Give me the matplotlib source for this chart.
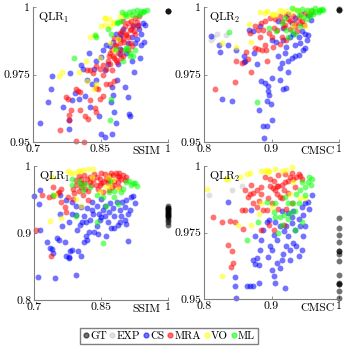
import matplotlib
matplotlib.use("Agg")
import matplotlib.pyplot as plt

plt.rcParams["font.family"] = ["cmr10", "DejaVu Serif"]
plt.rcParams["mathtext.fontset"] = "cm"
plt.rcParams["axes.formatter.use_mathtext"] = True

series = ["GT", "EXP", "CS", "MRA", "VO", "ML"]
colors = {"GT": "#000000", "EXP": "#c8c8c8", "CS": "#0000ff",
          "MRA": "#ff0000", "VO": "#ffff00", "ML": "#00ff00"}

# ---- top left: SSIM vs QLR1 ----
tl_gt = [(1.0, 0.9985), (1.0, 0.9985), (1.0, 0.9986)]
tl_exp = []
tl_cs = [(0.716, 0.957), (0.733, 0.965), (0.739, 0.9695), (0.742, 0.9745), (0.767, 0.963),
         (0.780, 0.955), (0.781, 0.958), (0.783, 0.9755), (0.787, 0.9655), (0.793, 0.968),
         (0.802, 0.966), (0.806, 0.9785), (0.811, 0.977), (0.816, 0.967), (0.820, 0.973),
         (0.824, 0.983), (0.827, 0.963), (0.830, 0.9715), (0.836, 0.977), (0.841, 0.980),
         (0.841, 0.973), (0.846, 0.9595), (0.852, 0.9815), (0.856, 0.984), (0.861, 0.9765),
         (0.863, 0.986), (0.867, 0.979), (0.874, 0.965), (0.876, 0.9705), (0.878, 0.9675),
         (0.881, 0.961), (0.884, 0.957), (0.850, 0.953), (0.861, 0.952), (0.876, 0.953),
         (0.887, 0.973), (0.889, 0.979), (0.893, 0.9845), (0.896, 0.990), (0.904, 0.9705),
         (0.907, 0.983), (0.911, 0.9665), (0.913, 0.9605), (0.916, 0.9595), (0.919, 0.980),
         (0.922, 0.993), (0.924, 0.976), (0.926, 0.9865), (0.930, 0.988), (0.936, 0.992),
         (0.937, 0.981), (0.941, 0.986), (0.944, 0.994), (0.910, 0.9865), (0.919, 0.989),
         (0.893, 0.9825), (0.878, 0.987), (0.870, 0.9855), (0.885, 0.990), (0.901, 0.992),
         (0.893, 0.9885), (0.933, 0.9934), (0.940, 0.990), (0.946, 0.987), (0.948, 0.9935)]
tl_mra = [(0.761, 0.9545), (0.779, 0.958), (0.781, 0.960), (0.785, 0.962), (0.778, 0.966),
          (0.774, 0.9668), (0.795, 0.9695), (0.800, 0.969), (0.804, 0.9685), (0.796, 0.9505),
          (0.813, 0.950), (0.815, 0.9595), (0.822, 0.9585), (0.805, 0.962), (0.837, 0.9625),
          (0.841, 0.961), (0.826, 0.9655), (0.839, 0.970), (0.844, 0.9695), (0.848, 0.966),
          (0.856, 0.967), (0.863, 0.9715), (0.870, 0.9715), (0.881, 0.9725), (0.826, 0.9765),
          (0.833, 0.9755), (0.848, 0.977), (0.841, 0.978), (0.856, 0.9785), (0.863, 0.977),
          (0.876, 0.9765), (0.885, 0.9805), (0.878, 0.982), (0.870, 0.983), (0.885, 0.9855),
          (0.893, 0.9865), (0.900, 0.988), (0.906, 0.990), (0.915, 0.9915), (0.922, 0.9935),
          (0.930, 0.9945), (0.919, 0.9855), (0.911, 0.984), (0.896, 0.984), (0.889, 0.983),
          (0.901, 0.982), (0.907, 0.9895), (0.893, 0.9905), (0.881, 0.9885), (0.915, 0.9865),
          (0.926, 0.990), (0.933, 0.993), (0.867, 0.980), (0.856, 0.975), (0.819, 0.9765),
          (0.900, 0.995), (0.905, 0.993), (0.912, 0.994), (0.918, 0.992), (0.925, 0.991),
          (0.910, 0.989), (0.898, 0.991), (0.903, 0.987), (0.890, 0.988), (0.883, 0.986),
          (0.875, 0.984), (0.868, 0.982), (0.872, 0.979), (0.880, 0.981), (0.887, 0.9795),
          (0.895, 0.981), (0.917, 0.995), (0.927, 0.996), (0.935, 0.9965)]
tl_vo = [(0.758, 0.9745), (0.764, 0.976), (0.802, 0.976), (0.817, 0.980), (0.826, 0.989),
         (0.837, 0.9895), (0.841, 0.9715), (0.835, 0.9695), (0.848, 0.981), (0.859, 0.996),
         (0.861, 0.9935), (0.870, 0.993), (0.881, 0.9945), (0.893, 0.9965), (0.901, 0.997),
         (0.915, 0.9965), (0.870, 0.9865), (0.881, 0.984), (0.889, 0.988), (0.819, 0.9725),
         (0.860, 0.996), (0.868, 0.9955), (0.877, 0.994), (0.852, 0.993)]
tl_ml = [(0.790, 0.981), (0.837, 0.9895), (0.874, 0.966), (0.870, 0.958), (0.889, 0.9945),
         (0.896, 0.995), (0.906, 0.9965), (0.919, 0.997), (0.930, 0.997), (0.937, 0.9975),
         (0.944, 0.998), (0.904, 0.984), (0.915, 0.983), (0.922, 0.982), (0.900, 0.980),
         (0.907, 0.985), (0.926, 0.984), (0.885, 0.9845), (0.897, 0.998), (0.905, 0.9975),
         (0.913, 0.998), (0.922, 0.9985), (0.930, 0.999), (0.940, 0.9985), (0.947, 0.9985),
         (0.953, 0.999), (0.886, 0.994), (0.841, 0.989), (0.866, 0.992), (0.908, 0.985),
         (0.915, 0.982), (0.873, 0.990)]

# ---- top right: CMSC vs QLR2 ----
tr_gt = [(1.0, 0.999), (1.0, 0.999), (1.0, 0.9991)]
tr_exp = [(0.810, 0.9878), (0.819, 0.990), (0.833, 0.9897), (0.814, 0.9888)]
tr_cs = [(0.810, 0.9893), (0.822, 0.986), (0.836, 0.986), (0.823, 0.9835), (0.848, 0.984),
         (0.859, 0.982), (0.861, 0.980), (0.859, 0.9795), (0.874, 0.983), (0.879, 0.979),
         (0.826, 0.9658), (0.842, 0.9653), (0.885, 0.9726), (0.882, 0.962), (0.890, 0.9717),
         (0.895, 0.9707), (0.895, 0.969), (0.896, 0.9674), (0.894, 0.9653), (0.899, 0.964),
         (0.900, 0.9583), (0.888, 0.9558), (0.893, 0.9558), (0.889, 0.9516), (0.901, 0.9736),
         (0.912, 0.973), (0.913, 0.9773), (0.915, 0.9792), (0.917, 0.9695), (0.922, 0.970),
         (0.924, 0.976), (0.920, 0.983), (0.924, 0.980), (0.930, 0.981), (0.935, 0.9818),
         (0.940, 0.9823), (0.946, 0.984), (0.950, 0.9848), (0.942, 0.9866), (0.952, 0.9878),
         (0.954, 0.9897), (0.950, 0.990), (0.940, 0.989), (0.932, 0.990), (0.927, 0.989),
         (0.917, 0.9878), (0.907, 0.987), (0.901, 0.9878), (0.910, 0.9818), (0.922, 0.9853),
         (0.935, 0.986), (0.945, 0.991), (0.959, 0.9953), (0.954, 0.9971), (0.873, 0.991),
         (0.867, 0.9916), (0.883, 0.9928), (0.917, 0.9922), (0.930, 0.994), (0.910, 0.9947),
         (0.935, 0.996), (0.943, 0.9975), (0.925, 0.9975), (0.960, 0.9985)]
tr_mra = [(0.816, 0.9695), (0.846, 0.9723), (0.847, 0.980), (0.862, 0.9835), (0.865, 0.9806),
          (0.857, 0.9794), (0.870, 0.976), (0.894, 0.980), (0.875, 0.985), (0.880, 0.9844),
          (0.886, 0.984), (0.892, 0.984), (0.891, 0.986), (0.902, 0.9853), (0.913, 0.9864),
          (0.915, 0.9888), (0.922, 0.9878), (0.900, 0.989), (0.883, 0.989), (0.875, 0.993),
          (0.884, 0.994), (0.890, 0.995), (0.898, 0.996), (0.905, 0.9955), (0.913, 0.9965),
          (0.922, 0.997), (0.932, 0.9968), (0.940, 0.996), (0.950, 0.9978), (0.957, 0.9975),
          (0.927, 0.995), (0.920, 0.9934), (0.935, 0.9928), (0.942, 0.994), (0.903, 0.9922),
          (0.868, 0.9903), (0.880, 0.9916), (0.915, 0.995), (0.925, 0.9955), (0.935, 0.994),
          (0.945, 0.995), (0.918, 0.9925), (0.928, 0.992), (0.938, 0.991), (0.948, 0.9935),
          (0.908, 0.9915), (0.896, 0.9905), (0.887, 0.9915)]
tr_vo = [(0.826, 0.9866), (0.848, 0.9853), (0.867, 0.9938), (0.870, 0.987), (0.891, 0.9978),
         (0.907, 0.9975), (0.917, 0.998), (0.927, 0.9978), (0.940, 0.9984), (0.950, 0.9928),
         (0.932, 0.9934), (0.954, 0.9984), (0.962, 0.999), (0.945, 0.9966), (0.902, 0.997),
         (0.883, 0.998), (0.893, 0.9985), (0.900, 0.9975), (0.912, 0.999), (0.922, 0.9985),
         (0.934, 0.9992)]
tr_ml = [(0.837, 0.9906), (0.879, 0.965), (0.897, 0.9922), (0.915, 0.994), (0.922, 0.9916),
         (0.930, 0.991), (0.942, 0.9928), (0.947, 0.9962), (0.957, 0.9968), (0.965, 0.998),
         (0.972, 0.9988), (0.976, 0.999), (0.970, 0.998), (0.962, 0.9974), (0.952, 0.9955),
         (0.935, 0.990), (0.924, 0.989), (0.907, 0.991), (0.930, 0.9995), (0.938, 0.999),
         (0.945, 0.9993), (0.952, 0.9988), (0.958, 0.999), (0.965, 0.9995), (0.970, 0.999),
         (0.975, 0.9993), (0.940, 0.997), (0.955, 0.9975), (0.920, 0.996)]

# ---- bottom left: SSIM vs QLR1 ----
bl_gt = [(1.0, 0.912), (1.0, 0.917), (1.0, 0.920), (1.0, 0.922), (1.0, 0.925), (1.0, 0.927),
         (1.0, 0.930), (1.0, 0.932), (1.0, 0.935), (1.0, 0.937), (1.0, 0.940), (1.0, 0.926),
         (1.0, 0.929), (1.0, 0.933), (1.0, 0.936), (1.0, 0.938)]
bl_exp = []
bl_cs = [(0.701, 0.955), (0.711, 0.944), (0.714, 0.904), (0.728, 0.887), (0.713, 0.964),
         (0.709, 0.834), (0.746, 0.8325), (0.735, 0.877), (0.740, 0.876), (0.742, 0.870),
         (0.751, 0.893), (0.757, 0.890), (0.759, 0.928), (0.763, 0.910), (0.770, 0.887),
         (0.772, 0.866), (0.778, 0.864), (0.781, 0.873), (0.784, 0.875), (0.779, 0.863),
         (0.793, 0.837), (0.796, 0.905), (0.798, 0.873), (0.806, 0.866), (0.811, 0.886),
         (0.816, 0.895), (0.818, 0.890), (0.808, 0.917), (0.817, 0.917), (0.823, 0.902),
         (0.834, 0.902), (0.843, 0.898), (0.847, 0.919), (0.851, 0.924), (0.855, 0.934),
         (0.860, 0.926), (0.866, 0.917), (0.873, 0.907), (0.880, 0.907), (0.888, 0.912),
         (0.892, 0.917), (0.903, 0.919), (0.907, 0.914), (0.910, 0.888), (0.903, 0.939),
         (0.896, 0.946), (0.907, 0.949), (0.918, 0.954), (0.922, 0.955), (0.892, 0.934),
         (0.877, 0.937), (0.869, 0.932), (0.880, 0.925), (0.851, 0.951), (0.840, 0.941),
         (0.829, 0.946), (0.818, 0.937), (0.806, 0.939), (0.795, 0.927), (0.784, 0.929),
         (0.772, 0.949), (0.759, 0.956), (0.784, 0.946), (0.885, 0.946), (0.910, 0.929),
         (0.779, 0.916), (0.832, 0.929), (0.825, 0.919), (0.803, 0.912), (0.861, 0.895),
         (0.830, 0.935), (0.845, 0.928), (0.860, 0.940), (0.870, 0.945), (0.895, 0.925),
         (0.915, 0.935), (0.925, 0.945), (0.840, 0.910), (0.795, 0.940), (0.812, 0.925)]
bl_mra = [(0.705, 0.904), (0.737, 0.866), (0.719, 0.956), (0.734, 0.954), (0.743, 0.955),
          (0.754, 0.959), (0.761, 0.966), (0.757, 0.961), (0.769, 0.939), (0.772, 0.932),
          (0.761, 0.946), (0.776, 0.954), (0.787, 0.966), (0.795, 0.971), (0.805, 0.974),
          (0.806, 0.969), (0.814, 0.966), (0.821, 0.962), (0.828, 0.971), (0.832, 0.979),
          (0.840, 0.984), (0.847, 0.981), (0.855, 0.976), (0.862, 0.981), (0.869, 0.985),
          (0.877, 0.986), (0.884, 0.989), (0.891, 0.984), (0.899, 0.986), (0.903, 0.979),
          (0.891, 0.969), (0.880, 0.971), (0.869, 0.964), (0.855, 0.961), (0.844, 0.965),
          (0.818, 0.981), (0.806, 0.981), (0.795, 0.979), (0.787, 0.951), (0.810, 0.956),
          (0.821, 0.949), (0.888, 0.976), (0.866, 0.974), (0.847, 0.971), (0.743, 0.969),
          (0.800, 0.985), (0.812, 0.987), (0.825, 0.984), (0.835, 0.988), (0.850, 0.989),
          (0.860, 0.988), (0.873, 0.990), (0.887, 0.985), (0.895, 0.980), (0.880, 0.978),
          (0.865, 0.979), (0.850, 0.975), (0.838, 0.972), (0.825, 0.976), (0.812, 0.975),
          (0.800, 0.962), (0.790, 0.960), (0.875, 0.968), (0.890, 0.990), (0.905, 0.983)]
bl_vo = [(0.740, 0.983), (0.780, 0.989), (0.789, 0.990), (0.798, 0.992), (0.810, 0.994),
         (0.821, 0.995), (0.832, 0.996), (0.735, 0.918), (0.761, 0.922), (0.805, 0.941),
         (0.847, 0.961), (0.862, 0.969), (0.877, 0.979), (0.888, 0.966), (0.795, 0.951),
         (0.746, 0.956), (0.775, 0.992), (0.803, 0.993), (0.830, 0.983), (0.870, 0.970),
         (0.865, 0.983)]
bl_ml = [(0.743, 0.957), (0.784, 0.972), (0.795, 0.925), (0.840, 0.917), (0.855, 0.885),
         (0.805, 0.971), (0.810, 0.964), (0.825, 0.969), (0.840, 0.956), (0.855, 0.954),
         (0.869, 0.961), (0.880, 0.954), (0.888, 0.944), (0.899, 0.966), (0.907, 0.976),
         (0.918, 0.971), (0.922, 0.974), (0.895, 0.961), (0.862, 0.941), (0.912, 0.977),
         (0.925, 0.975), (0.930, 0.970), (0.785, 0.981), (0.800, 0.977), (0.815, 0.973),
         (0.870, 0.977), (0.880, 0.963)]

# ---- bottom right: CMSC vs QLR2 ----
br_gt = [(1.0, 0.9803), (1.0, 0.9766), (1.0, 0.9741), (1.0, 0.9716), (1.0, 0.9679),
         (1.0, 0.9669), (1.0, 0.9641), (1.0, 0.9592), (1.0, 0.956), (1.0, 0.9555),
         (1.0, 0.953), (1.0, 0.9505), (1.0, 0.9679), (1.0, 0.9555)]
br_exp = [(0.807, 0.989), (0.841, 0.991), (0.857, 0.9924)]
br_cs = [(0.836, 0.9865), (0.846, 0.9582), (0.846, 0.9548), (0.848, 0.9505), (0.863, 0.9548),
         (0.868, 0.955), (0.873, 0.9548), (0.882, 0.956), (0.873, 0.9648), (0.878, 0.9655),
         (0.875, 0.963), (0.882, 0.9628), (0.883, 0.9685), (0.885, 0.9723), (0.888, 0.976),
         (0.893, 0.979), (0.898, 0.970), (0.900, 0.9685), (0.895, 0.9658), (0.900, 0.961),
         (0.903, 0.9585), (0.905, 0.956), (0.913, 0.9616), (0.920, 0.954), (0.915, 0.9648),
         (0.917, 0.967), (0.922, 0.970), (0.925, 0.9735), (0.927, 0.9685), (0.932, 0.971),
         (0.937, 0.970), (0.940, 0.966), (0.945, 0.9685), (0.946, 0.9735), (0.950, 0.9773),
         (0.942, 0.9773), (0.935, 0.976), (0.922, 0.9773), (0.913, 0.9773), (0.905, 0.979),
         (0.918, 0.9755), (0.930, 0.9786), (0.940, 0.980), (0.947, 0.9816), (0.945, 0.9846),
         (0.950, 0.986), (0.954, 0.9866), (0.932, 0.983), (0.925, 0.9823), (0.908, 0.9723),
         (0.903, 0.974), (0.896, 0.9796), (0.875, 0.9735), (0.870, 0.9835), (0.908, 0.9635),
         (0.927, 0.9648), (0.915, 0.983), (0.930, 0.981), (0.960, 0.989), (0.955, 0.984)]
br_mra = [(0.813, 0.981), (0.827, 0.979), (0.836, 0.9703), (0.842, 0.968), (0.840, 0.962),
          (0.843, 0.9635), (0.839, 0.9795), (0.846, 0.979), (0.858, 0.9765), (0.857, 0.9835),
          (0.861, 0.9836), (0.865, 0.9885), (0.868, 0.9895), (0.873, 0.990), (0.878, 0.991),
          (0.881, 0.987), (0.885, 0.9895), (0.888, 0.9836), (0.893, 0.9834), (0.898, 0.9924),
          (0.902, 0.9916), (0.905, 0.991), (0.910, 0.9924), (0.915, 0.993), (0.920, 0.994),
          (0.925, 0.9945), (0.927, 0.996), (0.932, 0.9953), (0.937, 0.996), (0.942, 0.9963),
          (0.908, 0.9895), (0.913, 0.9885), (0.918, 0.991), (0.903, 0.976), (0.896, 0.978),
          (0.885, 0.9758), (0.918, 0.978), (0.922, 0.984), (0.930, 0.986), (0.873, 0.986),
          (0.878, 0.9847), (0.903, 0.9945), (0.908, 0.9924), (0.890, 0.996), (0.898, 0.995),
          (0.910, 0.9965), (0.920, 0.997), (0.930, 0.9975), (0.940, 0.997), (0.945, 0.995),
          (0.935, 0.992), (0.925, 0.990), (0.915, 0.988), (0.895, 0.988), (0.885, 0.992),
          (0.870, 0.993), (0.860, 0.991), (0.900, 0.986), (0.910, 0.984)]
br_vo = [(0.805, 0.9913), (0.833, 0.995), (0.836, 0.9953), (0.853, 0.996), (0.863, 0.9969),
         (0.868, 0.9974), (0.885, 0.998), (0.890, 0.998), (0.895, 0.9978), (0.897, 0.998),
         (0.922, 0.9986), (0.827, 0.9585), (0.850, 0.978), (0.870, 0.978), (0.882, 0.982),
         (0.885, 0.986), (0.900, 0.9846), (0.927, 0.9896), (0.942, 0.9878), (0.950, 0.988),
         (0.932, 0.994), (0.893, 0.9985), (0.905, 0.999), (0.915, 0.998), (0.930, 0.9995)]
br_ml = [(0.864, 0.972), (0.880, 0.979), (0.903, 0.9827), (0.910, 0.9748), (0.912, 0.981),
         (0.918, 0.9816), (0.925, 0.986), (0.932, 0.986), (0.937, 0.9896), (0.942, 0.991),
         (0.950, 0.992), (0.954, 0.994), (0.959, 0.9928), (0.927, 0.9823), (0.905, 0.986),
         (0.893, 0.9865), (0.945, 0.994), (0.955, 0.996), (0.960, 0.995), (0.950, 0.989),
         (0.940, 0.986), (0.935, 0.983), (0.925, 0.980), (0.915, 0.978), (0.935, 0.976),
         (0.945, 0.979), (0.905, 0.981), (0.920, 0.9885)]

panels = [
    (dict(GT=tl_gt, EXP=tl_exp, CS=tl_cs, MRA=tl_mra, VO=tl_vo, ML=tl_ml),
     (0.7, 1.0), [0.7, 0.85, 1.0], ["0.7", "0.85", "1"],
     (0.95, 1.0), [0.95, 0.975, 1.0], ["0.95", "0.975", "1"], "SSIM", r"QLR$_1$",
     [33, 7, 168, 142]),
    (dict(GT=tr_gt, EXP=tr_exp, CS=tr_cs, MRA=tr_mra, VO=tr_vo, ML=tr_ml),
     (0.8, 1.0), [0.8, 0.9, 1.0], ["0.8", "0.9", "1"],
     (0.95, 1.0), [0.95, 0.975, 1.0], ["0.95", "0.975", "1"], "CMSC", r"QLR$_2$",
     [204, 7, 339, 142]),
    (dict(GT=bl_gt, EXP=bl_exp, CS=bl_cs, MRA=bl_mra, VO=bl_vo, ML=bl_ml),
     (0.7, 1.0), [0.7, 0.85, 1.0], ["0.7", "0.85", "1"],
     (0.8, 1.0), [0.8, 0.9, 1.0], ["0.8", "0.9", "1"], "SSIM", r"QLR$_1$",
     [34, 166, 168, 300]),
    (dict(GT=br_gt, EXP=br_exp, CS=br_cs, MRA=br_mra, VO=br_vo, ML=br_ml),
     (0.8, 1.0), [0.8, 0.9, 1.0], ["0.8", "0.9", "1"],
     (0.95, 1.0), [0.95, 0.975, 1.0], ["0.95", "0.975", "1"], "CMSC", r"QLR$_2$",
     [204, 166, 339, 299]),
]

W, H = 346, 348
fig = plt.figure(figsize=(W / 100, H / 100), dpi=100)

for data, xlim, xt, xtl, ylim, yt, ytl, xlab, title, box in panels:
    l, t, r, b = box
    ax = fig.add_axes([l / W, 1 - b / H, (r - l) / W, (b - t) / H])
    for name in series:
        pts = data[name]
        if not pts:
            continue
        xs, ys = zip(*pts)
        ax.scatter(xs, ys, s=18, color=colors[name], alpha=0.55,
                   linewidths=0, clip_on=False, zorder=2)
    ax.set_xlim(*xlim)
    ax.set_ylim(*ylim)
    ax.set_xticks(xt)
    ax.set_xticklabels(xtl)
    ax.set_yticks(yt)
    ax.set_yticklabels(ytl)
    for side in ["top", "right"]:
        ax.spines[side].set_visible(False)
    for side in ["left", "bottom"]:
        ax.spines[side].set_color("#808080")
        ax.spines[side].set_linewidth(0.8)
    ax.tick_params(direction="in", length=2, width=0.6, color="#808080",
                   labelsize=8.5, pad=2)
    ax.set_xlabel(xlab, fontsize=8.5)
    ax.xaxis.set_label_coords(0.84, -0.035)
    ax.text(0.04, 0.97, title, transform=ax.transAxes, fontsize=8.5,
            va="top", ha="left")
    ax.patch.set_alpha(0)

handles = [plt.Line2D([], [], marker="o", linestyle="", markersize=3.5,
                      color=colors[n], alpha=0.55) for n in series]
fig.legend(handles, series, loc="center", bbox_to_anchor=(169 / W, 1 - 336 / H),
           ncol=6, fontsize=8, handlelength=0.5, handletextpad=0.15,
           columnspacing=0.25, borderpad=0.25, fancybox=False,
           edgecolor="#808080", framealpha=1)

fig.savefig("out.png", dpi=100)
